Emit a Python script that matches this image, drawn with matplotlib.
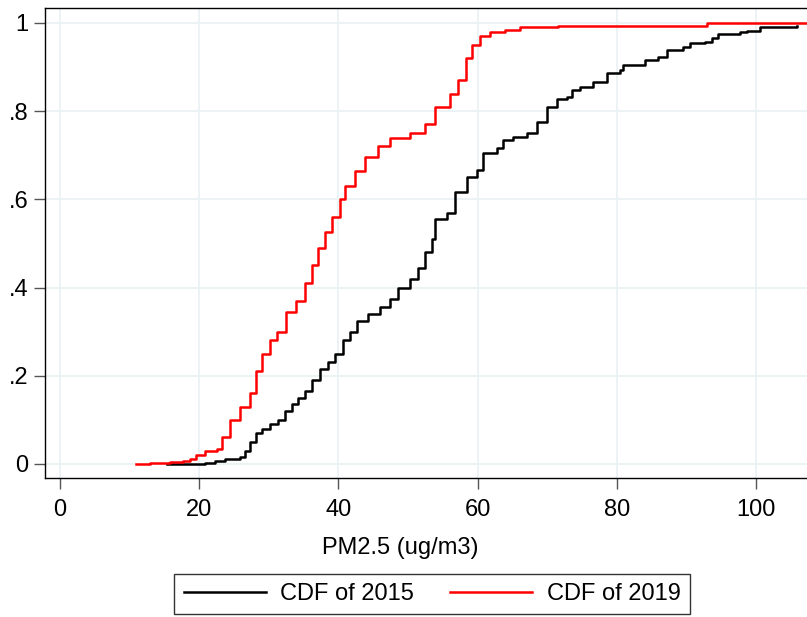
import matplotlib.pyplot as plt

plt.rcParams['font.family'] = ['Liberation Sans', 'DejaVu Sans']

# step points (PM2.5 value, cumulative share)
x_2015 = [15.4, 20.8, 22.3, 23.7, 25.9, 26.6, 27.3, 28.2, 29.0, 30.2, 31.3, 32.3,
          33.3, 34.2, 35.2, 36.2, 37.4, 38.5, 39.5, 40.7, 41.7, 42.7, 44.3, 46.0,
          47.4, 48.6, 50.3, 51.4, 52.4, 53.4, 53.9, 55.6, 56.8, 58.5, 59.9, 60.8,
          62.8, 63.6, 65.1, 67.1, 68.5, 70.0, 71.4, 72.8, 73.6, 74.7, 76.6, 78.6,
          80.5, 80.9, 84.1, 85.9, 87.2, 89.5, 90.5, 92.7, 93.7, 94.5, 97.7, 98.7,
          100.6, 105.9]
y_2015 = [0.0, 0.003, 0.007, 0.01, 0.015, 0.03, 0.05, 0.07, 0.08, 0.09, 0.10, 0.12,
          0.135, 0.15, 0.165, 0.19, 0.215, 0.23, 0.25, 0.28, 0.30, 0.325, 0.34, 0.355,
          0.375, 0.40, 0.42, 0.445, 0.48, 0.51, 0.555, 0.57, 0.617, 0.65, 0.667, 0.705,
          0.717, 0.735, 0.741, 0.751, 0.775, 0.81, 0.828, 0.832, 0.848, 0.855, 0.866, 0.887,
          0.893, 0.905, 0.916, 0.923, 0.939, 0.946, 0.955, 0.957, 0.966, 0.975, 0.98, 0.982,
          0.991, 0.993]

x_2019 = [10.9, 12.9, 15.8, 17.7, 18.7, 19.5, 20.8, 22.6, 23.3, 24.4, 25.9, 27.3,
          28.2, 29.0, 30.2, 31.2, 32.5, 33.9, 35.2, 36.2, 37.1, 38.1, 39.1, 40.2,
          40.9, 42.4, 43.8, 45.7, 47.4, 50.3, 52.4, 53.9, 56.0, 57.2, 58.3, 59.2,
          60.3, 61.8, 63.9, 66.1, 71.6, 93.0, 107.3]
y_2019 = [0.0, 0.002, 0.004, 0.007, 0.01, 0.02, 0.03, 0.033, 0.06, 0.10, 0.13, 0.16,
          0.21, 0.25, 0.28, 0.30, 0.345, 0.37, 0.41, 0.45, 0.49, 0.525, 0.56, 0.60,
          0.63, 0.665, 0.695, 0.72, 0.74, 0.75, 0.77, 0.81, 0.84, 0.87, 0.92, 0.95,
          0.97, 0.98, 0.985, 0.99, 0.993, 1.0, 1.0]

xticks = [0, 20, 40, 60, 80, 100]
yticks = [0, 0.2, 0.4, 0.6, 0.8, 1.0]
ytick_labels = ["0", ".2", ".4", ".6", ".8", "1"]

fig = plt.figure(figsize=(8.07, 6.17), dpi=100)
ax = fig.add_axes([45 / 807, 1 - 478 / 617, 1 - 45 / 807, (478 - 8) / 617])

ax.step(x_2015, y_2015, where='post', color='black', lw=1.8, label='CDF of 2015')
ax.step(x_2019, y_2019, where='post', color='#ff0000', lw=1.8, label='CDF of 2019')

ax.set_xlim(-2.16, 107.3)
ax.set_ylim(-0.032, 1.034)
ax.set_xticks(xticks)
ax.set_yticks(yticks)
ax.set_yticklabels(ytick_labels)
ax.grid(True, color='#eaf2f3', lw=1.3)
ax.set_axisbelow(True)
ax.tick_params(labelsize=17, length=8, width=1, color='#555555')
ax.tick_params(axis='x', pad=7)
ax.tick_params(axis='y', pad=4)
ax.spines['right'].set_visible(False)
for s in ['left', 'bottom', 'top']:
    ax.spines[s].set_linewidth(1.0)
    ax.spines[s].set_color('black')

fig.text(400 / 807, 1 - 548 / 617, "PM2.5 (ug/m3)", fontsize=17,
         ha='center', va='center')

leg = fig.legend(loc='center', bbox_to_anchor=(432 / 807, 1 - 594 / 617), ncol=2,
                 fontsize=17, frameon=True, fancybox=False, handlelength=3.5,
                 handletextpad=0.6, columnspacing=1.5, borderpad=0.4,
                 borderaxespad=0)
leg.get_frame().set_edgecolor('black')
leg.get_frame().set_linewidth(1.0)
for line in leg.get_lines():
    line.set_linewidth(1.8)

fig.savefig('out.png', dpi=100)
